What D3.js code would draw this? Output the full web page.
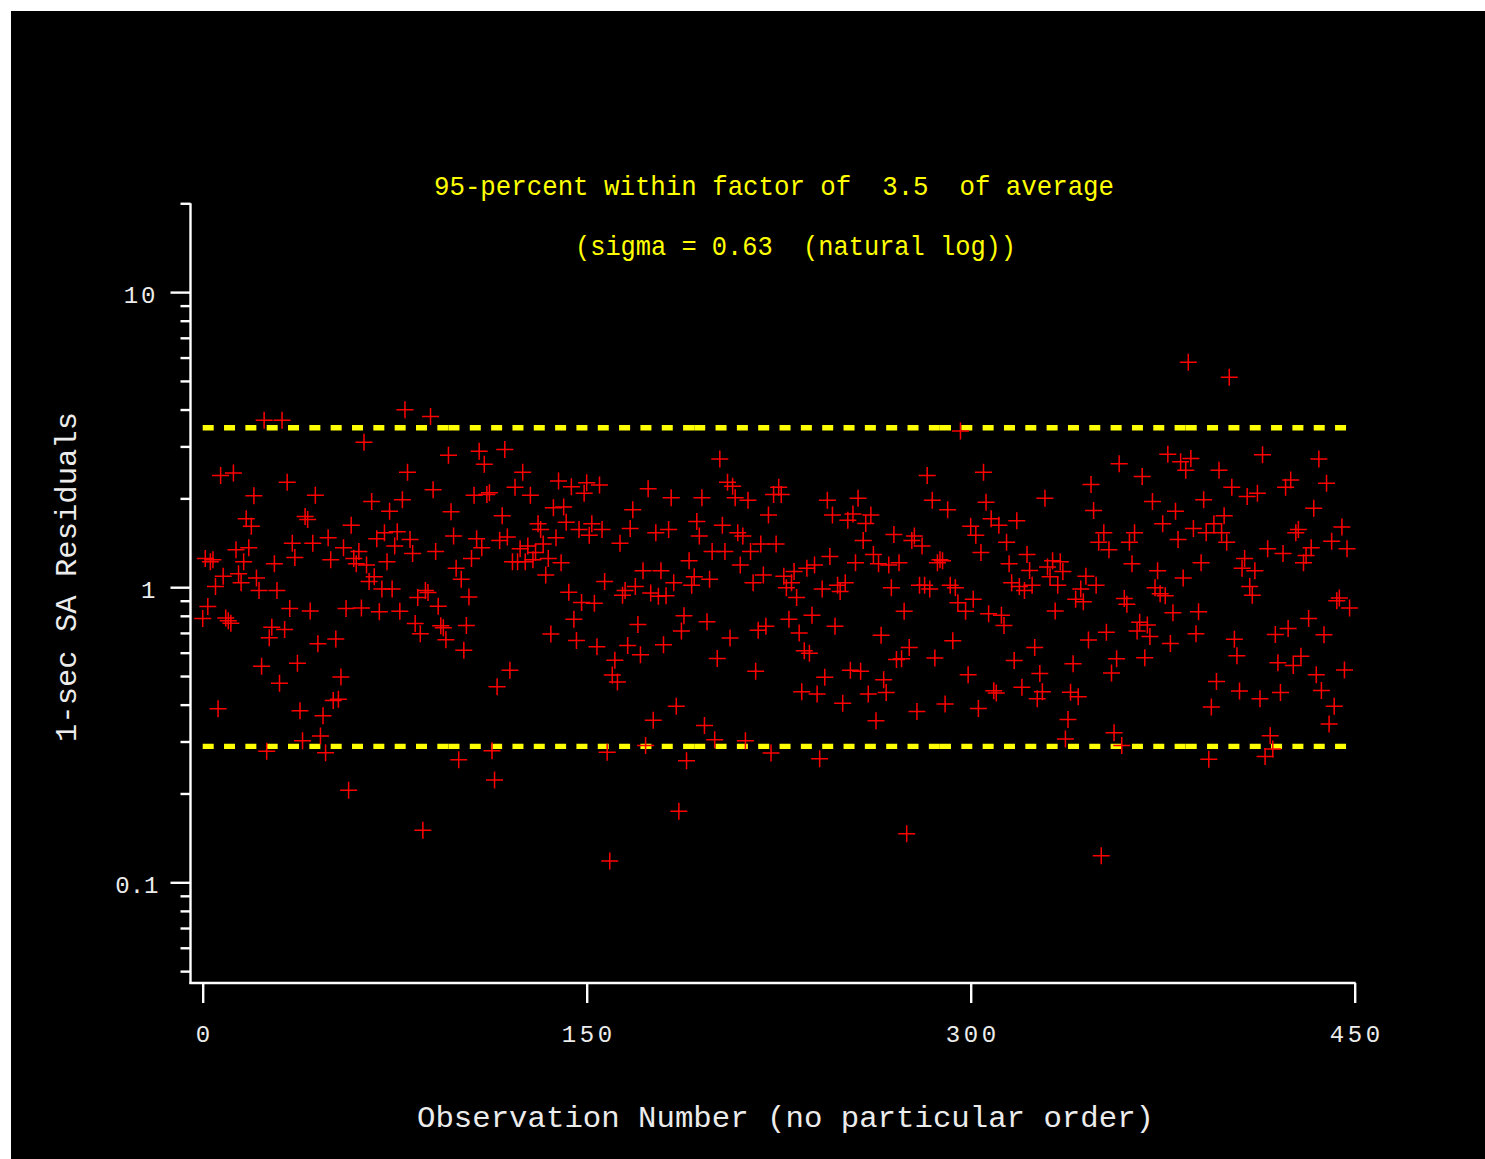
<!DOCTYPE html>
<html>
<head>
<meta charset="utf-8">
<script src="https://cdn.jsdelivr.net/npm/d3@7"></script>
<style>
  html, body { margin: 0; padding: 0; background: #fff; }
  svg { display: block; }
  text { font-family: "Liberation Mono", "DejaVu Sans Mono", monospace; white-space: pre; }
</style>
</head>
<body>
<div id="chart"></div>
<script>
// residual for each observation number (index = observation number)
const residuals = [
  0.783, 1.25, 0.86, 1.22, 1.24, 1.005, 0.387, 2.39, 1.09, 0.787,
  0.77, 0.755, 2.44, 1.34, 1.11, 1.035, 1.22, 1.705, 1.36, 1.61,
  2.04, 1.075, 0.975, 0.54, 3.68, 0.278, 0.674, 0.731, 1.20, 0.975,
  0.473, 3.68, 0.719, 2.27, 0.847, 1.41, 1.26, 0.552, 0.381, 0.302,
  1.735, 1.695, 0.831, 1.41, 2.05, 0.643, 0.313, 0.367, 0.275, 1.47,
  1.24, 0.413, 0.668, 0.417, 0.496, 1.36, 0.847, 0.205, 1.62, 1.25,
  1.20, 1.32, 0.851, 3.10, 1.19, 1.045, 1.95, 1.085, 1.46, 0.825,
  0.986, 1.53, 1.22, 1.81, 0.986, 1.38, 1.54, 0.829, 1.98, 3.99,
  2.45, 1.45, 1.30, 0.754, 0.922, 0.695, 0.15, 0.975, 0.96, 3.79,
  2.14, 1.32, 0.862, 0.74, 0.729, 0.663, 2.80, 1.80, 1.49, 1.16,
  0.26, 1.065, 0.611, 0.742, 0.927, 1.25, 2.05, 1.46, 2.89, 1.36,
  2.61, 2.06, 2.09, 0.279, 0.222, 0.46, 1.44, 1.745, 2.93, 1.48,
  0.523, 1.22, 2.18, 1.22, 1.35, 2.45, 1.22, 1.38, 2.05, 1.24,
  1.31, 1.64, 1.57, 1.40, 1.10, 1.25, 0.694, 1.86, 1.47, 2.29,
  1.21, 1.87, 1.66, 0.962, 2.19, 0.778, 0.66, 1.57, 0.887, 2.08,
  2.26, 1.50, 1.64, 0.883, 0.628, 2.22, 1.57, 1.045, 0.276, 0.118,
  0.504, 0.565, 0.477, 1.41, 0.939, 0.975, 0.635, 1.58, 1.83, 1.005,
  0.748, 0.59, 1.137, 0.291, 2.155, 0.956, 0.354, 1.53, 0.932, 1.137,
  0.638, 0.935, 1.57, 2.01, 1.035, 0.395, 0.174, 0.711, 0.80, 0.258,
  1.23, 1.015, 1.085, 1.67, 1.49, 2.01, 0.34, 0.764, 1.065, 1.32,
  0.304, 0.573, 2.72, 1.62, 1.32, 2.27, 0.673, 2.20, 2.01, 1.53,
  1.19, 1.49, 0.302, 1.97, 1.32, 1.035, 0.519, 0.715, 1.40, 1.10,
  0.737, 1.755, 0.274, 2.06, 1.40, 2.18, 2.06, 1.09, 0.995, 0.778,
  1.035, 1.13, 0.922, 0.699, 0.442, 0.609, 1.16, 0.597, 0.804, 1.19,
  0.435, 0.262, 0.986, 0.495, 1.97, 1.27, 1.755, 0.737, 1.015, 0.967,
  0.404, 1.035, 1.685, 0.523, 1.77, 1.21, 2.00, 0.519, 1.44, 1.645,
  0.435, 1.755, 1.29, 0.353, 1.20, 0.688, 0.486, 0.44, 1.19, 0.995,
  1.51, 0.569, 1.21, 0.572, 0.829, 0.146, 0.625, 1.44, 1.49, 0.379,
  1.015, 1.38, 1.015, 2.39, 0.986, 1.97, 0.575, 1.21, 1.24, 1.23,
  0.402, 1.83, 1.015, 0.658, 0.995, 0.885, 3.38, null, 0.829, 0.505,
  1.61, 0.91, 1.50, 0.388, 1.31, 2.45, 1.94, 0.813, 1.705, 0.446,
  0.438, 1.62, 0.804, 0.742, 1.42, 1.20, 1.035, 0.564, 1.68, 1.005,
  0.458, 0.975, 1.29, 1.14, 1.015, 0.625, 0.419, 0.51, 0.442, 2.00,
  1.17, 1.085, 1.23, 0.831, 1.015, 1.22, 1.13, 0.306, 0.356, 0.441,
  0.55, 0.91, 0.425, 0.986, 0.892, 1.09, 0.662, 2.23, 1.82, 1.015,
  1.42, 0.123, 1.53, 0.703, 1.34, 0.512, 0.321, 0.572, 2.62, 0.291,
  0.916, 0.876, 1.42, 1.20, 1.53, 0.711, 0.76, 2.37, 0.577, 0.744,
  0.681, 1.95, 0.995, 1.137, 0.95, 1.64, 0.935, 2.82, 0.645, 0.82,
  1.81, 1.45, 2.66, 1.075, 2.49, 5.78, 2.73, 1.58, 0.695, 0.825,
  1.21, 1.98, 1.53, 0.261, 0.393, 1.64, 0.479, 2.49, 1.53, 1.745,
  1.42, 5.15, 2.18, 0.666, 0.586, 0.445, 1.16, 1.25, 2.03, 1.005,
  0.939, 1.137, 2.08, 0.419, 2.81, 0.267, 1.35, 0.314, 0.283, 0.692,
  0.555, 0.44, 1.30, 2.18, 0.725, 2.31, 0.543, 1.53, 1.57, 0.584,
  1.21, 1.28, 0.783, 1.36, 1.85, 0.505, 2.72, 0.447, 0.69, 2.25,
  0.344, 1.43, 0.395, 0.899, 0.92, 1.60, 0.524, 1.35, 0.851
];

const xTicks = [0, 150, 300, 450];
const yMajorTicks = [0.1, 1, 10];
const yTickLabels = ['0.1', '1', '10'];
const yMinorTicks = [0.05, 0.06, 0.07, 0.08, 0.09,
  0.2, 0.3, 0.4, 0.5, 0.6, 0.7, 0.8, 0.9,
  2, 3, 4, 5, 6, 7, 8, 9, 20];

// 95-percent band (factor of 3.5 around the average)
const upperLimit = 3.47;
const lowerLimit = 0.289;
// the band lines were drawn in pieces, each restarting its dash pattern
const limitBreaks = [0, 96, 192, 288, 384, 448];

const titleLines = ['95-percent within factor of  3.5  of average', '(sigma = 0.63  (natural log))'];
const xLabel = 'Observation Number (no particular order)';
const yLabel = '1-sec SA Residuals';

const width = 1485, height = 1159;
const plotBottom = 983, axisX = 190.5;
const labelColor = '#ececec';

const svg = d3.select('#chart').append('svg')
  .attr('width', width)
  .attr('height', height);

// black page with the white edge at top/left
svg.append('rect').attr('width', width).attr('height', height).attr('fill', '#fff');
svg.append('rect').attr('x', 11).attr('y', 11)
  .attr('width', width - 11).attr('height', height - 11).attr('fill', '#000');

const x = d3.scaleLinear().domain([0, 450]).range([202.7, 1354.7]);
const y = d3.scaleLog().domain([0.1, 10]).range([882.3, 292.1]);

// frame lines
svg.append('line')
  .attr('x1', axisX).attr('x2', axisX)
  .attr('y1', y(20)).attr('y2', plotBottom + 1)
  .attr('stroke', '#fff').attr('stroke-width', 2.4);
svg.append('line')
  .attr('x1', axisX - 1).attr('x2', x(450) + 1)
  .attr('y1', plotBottom).attr('y2', plotBottom)
  .attr('stroke', '#fff').attr('stroke-width', 2.4);

// Y axis major ticks + labels
const yAxis = svg.append('g')
  .attr('transform', 'translate(' + axisX + ',0)')
  .call(d3.axisLeft(y).tickValues(yMajorTicks).tickSize(20).tickSizeOuter(0)
    .tickPadding(12).tickFormat((d, i) => yTickLabels[i]));
yAxis.select('.domain').remove();
yAxis.selectAll('line').attr('stroke', '#fff').attr('stroke-width', 2.4);
yAxis.selectAll('text')
  .attr('fill', labelColor)
  .attr('dy', '10.5px')
  .attr('font-size', 24)
  .attr('letter-spacing', d => d < 1 ? 0 : 3)
  .attr('font-family', '"Liberation Mono", monospace');

// Y axis minor ticks
const yMinor = svg.append('g')
  .attr('transform', 'translate(' + axisX + ',0)')
  .call(d3.axisLeft(y).tickValues(yMinorTicks).tickSize(10).tickSizeOuter(0).tickFormat(''));
yMinor.select('.domain').remove();
yMinor.selectAll('line').attr('stroke', '#fff').attr('stroke-width', 2.4);

// X axis
const xAxis = svg.append('g')
  .attr('transform', 'translate(0,' + plotBottom + ')')
  .call(d3.axisBottom(x).tickValues(xTicks).tickSize(20).tickSizeOuter(0).tickFormat(d3.format('d')));
xAxis.select('.domain').remove();
xAxis.selectAll('line').attr('stroke', '#fff').attr('stroke-width', 2.4);
xAxis.selectAll('text')
  .attr('fill', labelColor)
  .attr('y', 58.5)
  .attr('dy', 0)
  .attr('dx', 1.5)
  .attr('font-size', 24)
  .attr('letter-spacing', 3.5)
  .attr('font-family', '"Liberation Mono", monospace');

// dashed band lines
const segs = d3.pairs(limitBreaks);
[upperLimit, lowerLimit].forEach(lim => {
  svg.append('g').selectAll('line').data(segs).enter().append('line')
    .attr('x1', d => x(d[0])).attr('x2', d => x(d[1]))
    .attr('y1', y(lim)).attr('y2', y(lim))
    .attr('stroke', '#ffff00')
    .attr('stroke-width', 5.3)
    .attr('stroke-dasharray', '11 10.33');
});

// the residuals
const pts = residuals.map((v, i) => ({obs: i, val: v})).filter(d => d.val != null);
svg.append('g').selectAll('path').data(pts).enter().append('path')
  .attr('d', 'M-8.5,0H8.5M0,-8.5V8.5')
  .attr('transform', d => 'translate(' + x(d.obs) + ',' + y(d.val) + ')')
  .attr('stroke', '#ff0000')
  .attr('stroke-width', 1.5)
  .attr('fill', 'none');

// title
svg.append('text')
  .attr('x', 434).attr('y', 195)
  .attr('textLength', 680).attr('lengthAdjust', 'spacingAndGlyphs')
  .attr('font-size', 28).attr('fill', '#ffff00')
  .text(titleLines[0]);
svg.append('text')
  .attr('x', 575).attr('y', 255)
  .attr('textLength', 441).attr('lengthAdjust', 'spacingAndGlyphs')
  .attr('font-size', 28).attr('fill', '#ffff00')
  .text(titleLines[1]);

// axis titles
svg.append('text')
  .attr('x', 417).attr('y', 1127)
  .attr('textLength', 737).attr('lengthAdjust', 'spacingAndGlyphs')
  .attr('font-size', 30).attr('fill', labelColor)
  .text(xLabel);
svg.append('text')
  .attr('transform', 'translate(76,742) rotate(-90)')
  .attr('textLength', 330).attr('lengthAdjust', 'spacingAndGlyphs')
  .attr('font-size', 30).attr('fill', labelColor)
  .text(yLabel);
</script>
</body>
</html>
